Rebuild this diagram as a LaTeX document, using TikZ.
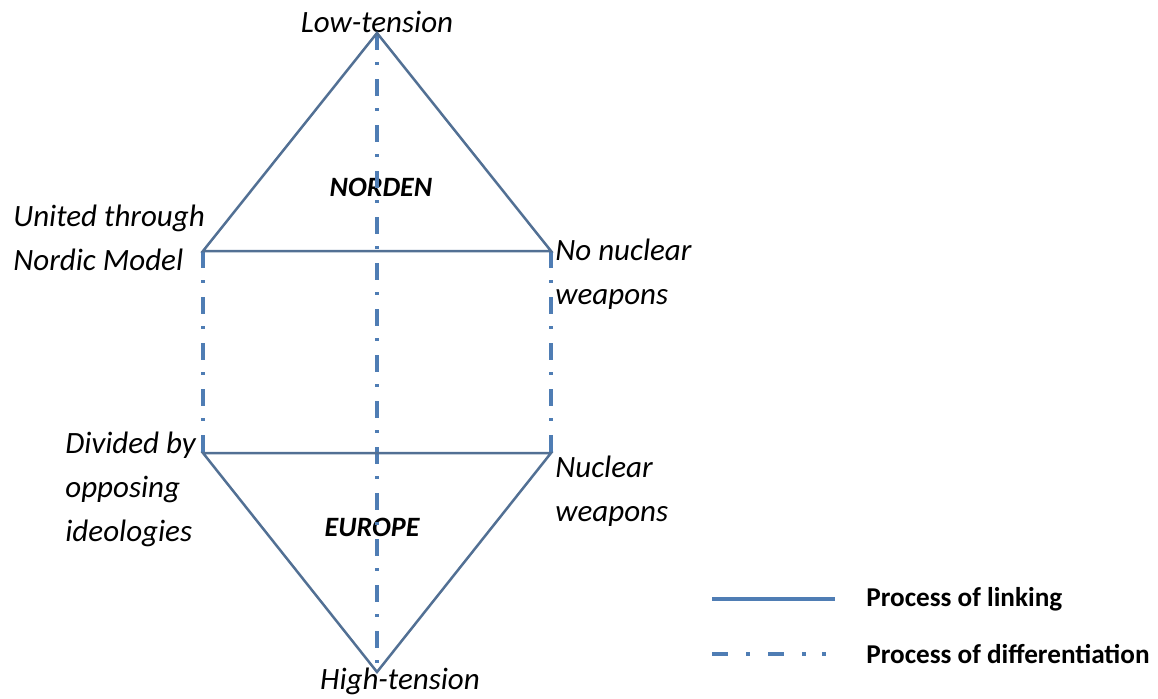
\documentclass[tikz,border=0pt]{standalone}
\usepackage{fontspec}
\setmainfont{Carlito}
\definecolor{linkblue}{RGB}{82,112,148}
\definecolor{diffblue}{RGB}{79,125,180}
\tikzstyle{sidetext} = [font=\fontsize{15.5}{22}\selectfont\itshape,inner sep=0pt,align=left]
\tikzstyle{region} = [font=\fontsize{14}{17}\selectfont\bfseries\itshape,inner sep=0pt]
\tikzstyle{keytext} = [font=\fontsize{13.6}{17}\selectfont\bfseries,inner sep=0pt,anchor=west]
\tikzstyle{linking} = [draw=linkblue,line width=1.25pt]
\tikzstyle{differ} = [draw=diffblue,line width=1.6pt,dash pattern=on 8.5pt off 6pt on 1.5pt off 7pt]

\begin{document}
\begin{tikzpicture}[x=0.5pt,y=-0.5pt]
	\useasboundingbox (0,0) rectangle (1158,698);
	\coordinate (top) at (377,33);
	\coordinate (nw) at (203,251);
	\coordinate (ne) at (551,251);
	\coordinate (sw) at (203,453);
	\coordinate (se) at (551,453);
	\coordinate (bottom) at (377,672);
	\node (low) [sidetext,anchor=base] at (377,32) {Low-tension};
	\node (high) [sidetext,anchor=base] at (400,689) {High-tension};
	\node (united) [sidetext,anchor=north west] at (13,205) {United through\\Nordic Model};
	\node (divided) [sidetext,anchor=north west] at (65,432) {Divided by\\opposing\\ideologies};
	\node (nonuke) [sidetext,anchor=north west] at (555,239) {No nuclear\\weapons};
	\node (nuke) [sidetext,anchor=north west] at (555,456) {Nuclear\\weapons};
	\node (norden) [region] at (381,187) {NORDEN};
	\node (europe) [region] at (372,527) {EUROPE};
	\draw [differ] (top) -- (bottom);
	\draw [differ] (nw) -- (sw);
	\draw [differ] (ne) -- (se);
	\draw [linking] (nw) -- (top) -- (ne) -- cycle;
	\draw [linking] (sw) -- (se) -- (bottom) -- cycle;
	\coordinate (linkA) at (712,599);
	\coordinate (linkB) at (835,599);
	\coordinate (diffA) at (712,654);
	\coordinate (diffB) at (835,654);
	\node (linktext) [keytext] at (866,599) {Process of linking};
	\node (difftext) [keytext] at (866,654) {Process of differentiation};
	\draw [linking,draw=diffblue,line width=2pt] (linkA) -- (linkB);
	\draw [differ,dash pattern=on 8pt off 9pt on 2pt off 9pt on 8pt off 9pt on 2pt off 8pt on 2pt off 9pt] (diffA) -- (diffB);
\end{tikzpicture}
\end{document}
